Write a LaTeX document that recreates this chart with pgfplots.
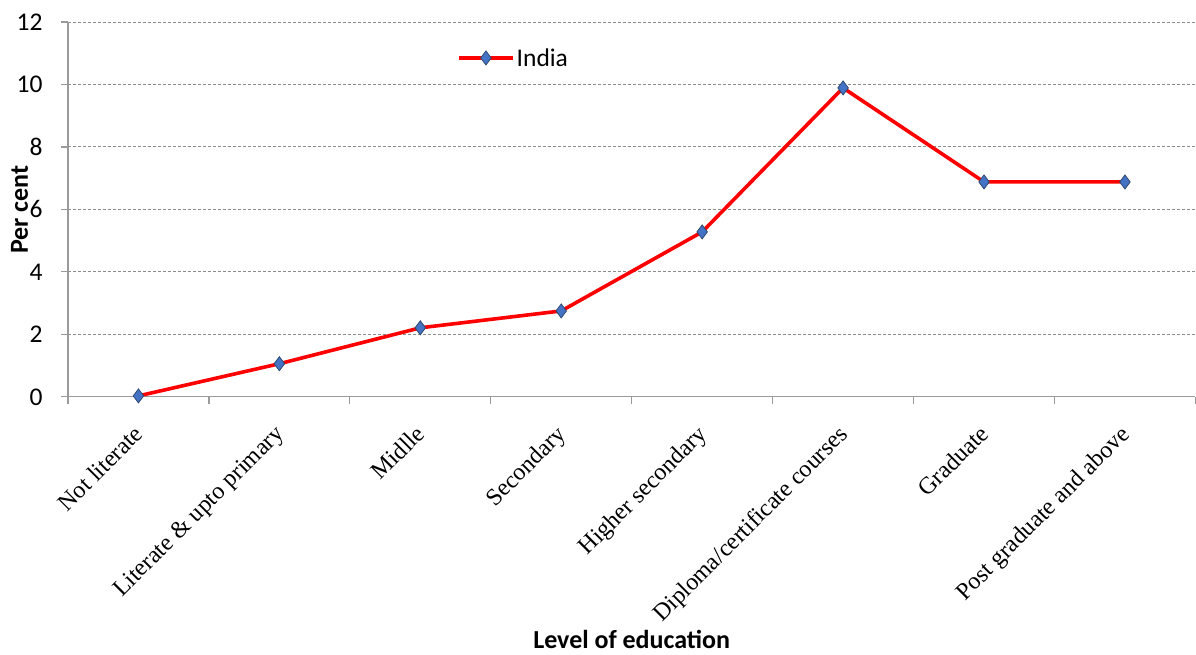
\documentclass[border=0pt]{standalone}
\usepackage{fontspec}
\setmainfont{Carlito}
\newfontfamily\timesfont{Liberation Serif}
\usepackage{pgfplots}
\pgfplotsset{compat=1.18}
\definecolor{mkfill}{HTML}{4472C4}
\definecolor{mkdraw}{HTML}{2F4A70}
\definecolor{axgray}{HTML}{9A9A9A}
\definecolor{gridgray}{HTML}{8C8C8C}
\begin{document}
\begin{tikzpicture}
\begin{axis}[
  scale only axis,
  width=1128pt, height=375pt,
  xmin=-0.5, xmax=7.5, ymin=0, ymax=12,
  axis lines*=left,
  axis line style={axgray, line width=1.2pt},
  ytick={0,2,...,12},
  ymajorgrids,
  grid style={gridgray, line width=0.9pt, dash pattern=on 3pt off 2pt},
  xtick={0,...,7},
  xticklabels={Not literate, Literate \& upto primary, Midlle, Secondary, Higher secondary, Diploma/certificate courses, Graduate, Post graduate and above},
  major x tick style={draw=none},
  minor xtick={-0.5,0.5,...,7.5},
  minor x tick style={axgray, line width=1.2pt},
  minor tick length=7pt,
  major tick length=7pt,
  y tick style={axgray, line width=1.2pt},
  tick align=outside,
  tick pos=left,
  /pgf/number format/assume math mode=true,
  yticklabel style={font=\fontsize{25.5}{30}\selectfont, xshift=-15pt},
  xticklabel style={font=\fontsize{24}{28}\selectfont\timesfont, xshift=-6pt, yshift=-17pt, rotate=45, anchor=north east, inner sep=2pt},
  ylabel={Per cent},
  ylabel style={font=\fontsize{26}{30}\selectfont\bfseries, at={(axis description cs:-0.043,0.5)}, anchor=center},
  xlabel={Level of education},
  xlabel style={font=\fontsize{26}{30}\selectfont\bfseries, at={(axis description cs:0.5,-0.648)}, anchor=center},
  legend style={draw=none, fill=none, at={(axis description cs:0.345,0.904)}, anchor=west, font=\fontsize{25.5}{30}\selectfont, inner sep=0pt},
  legend cell align=left,
  legend image code/.code={\draw[mark repeat=2, mark phase=2, #1] plot coordinates {(0pt,0pt) (27pt,0pt) (54pt,0pt)};},
  clip=false,
]
\addplot[red, line width=3.6pt, mark=diamond*, mark size=7pt,
  mark options={fill=mkfill, draw=mkdraw, line width=0.8pt, solid}]
  coordinates {(0,0.03) (1,1.06) (2,2.21) (3,2.75) (4,5.28) (5,9.89) (6,6.88) (7,6.88)};
\addlegendentry{India}
\path (axis description cs:-0.0603,-0.688) rectangle (axis description cs:1,1.0587);
\end{axis}
\end{tikzpicture}
\end{document}
